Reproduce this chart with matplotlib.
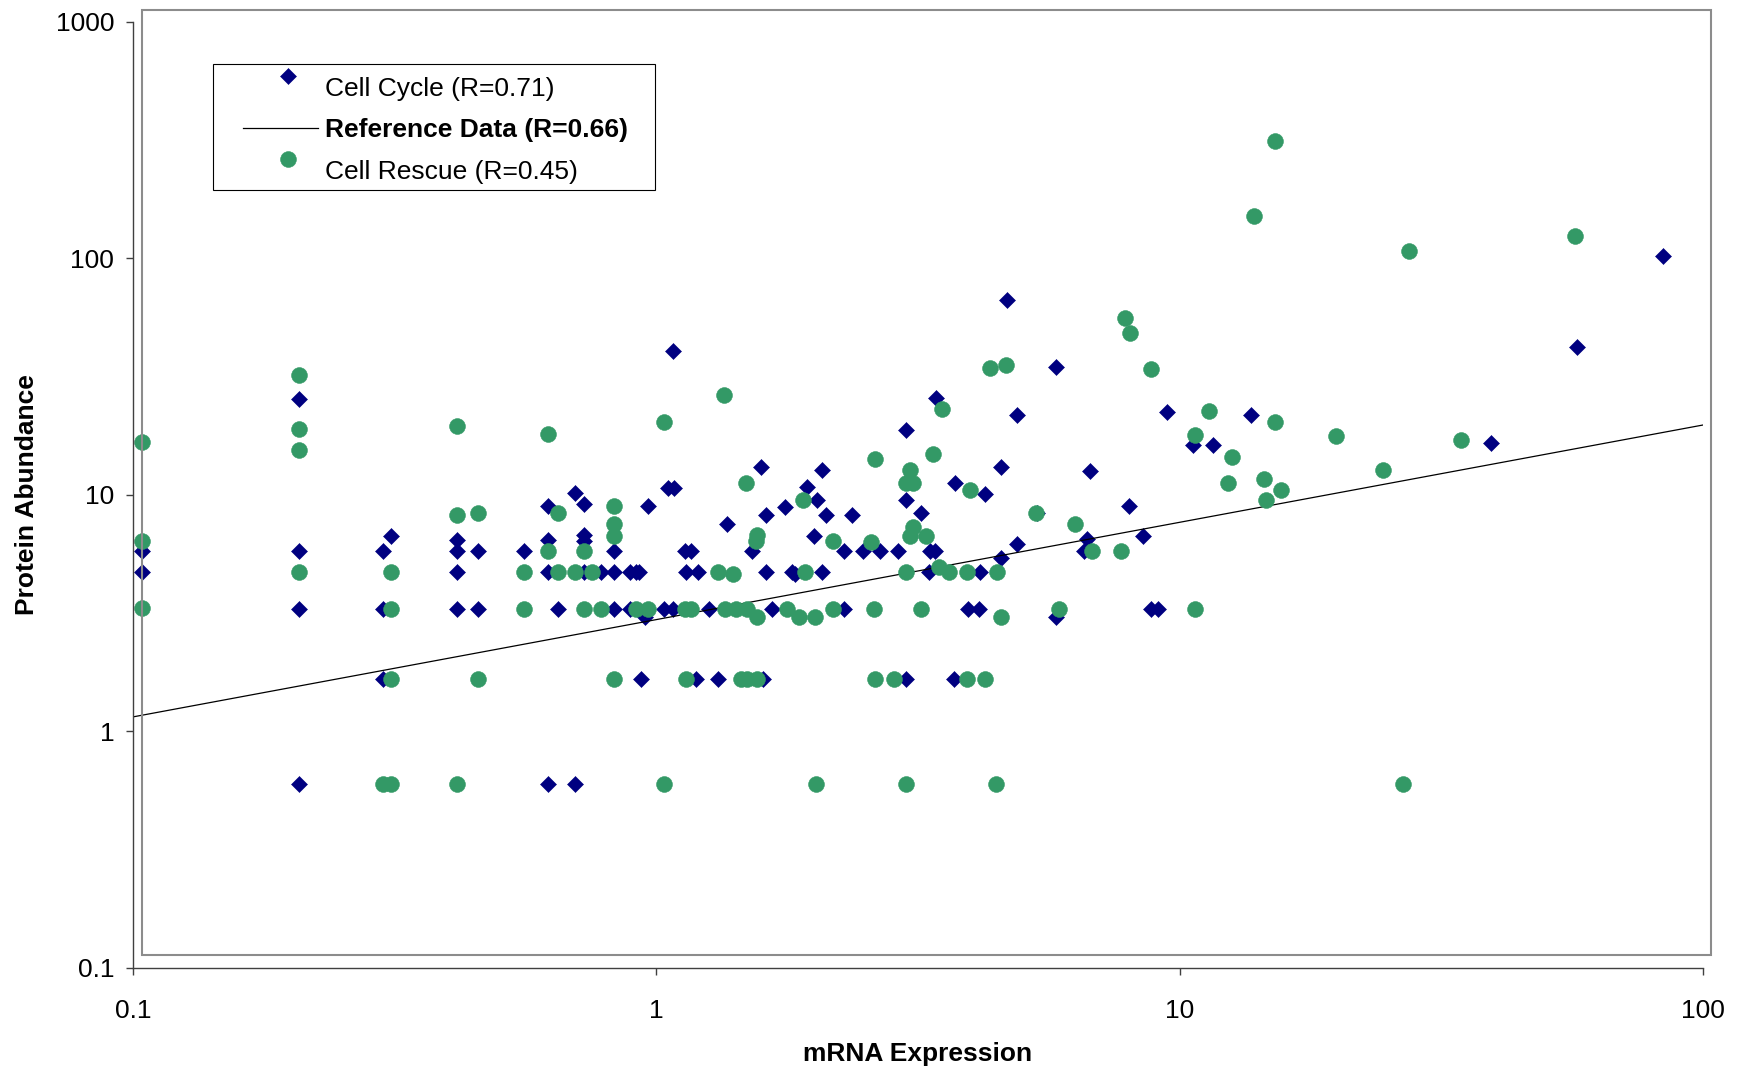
import numpy as np
import matplotlib
matplotlib.use("Agg")
import matplotlib.pyplot as plt
from matplotlib.patches import Rectangle
from matplotlib.legend_handler import HandlerLine2D
from matplotlib.ticker import FixedLocator, FixedFormatter, NullLocator

plt.rcParams['font.family'] = ['Liberation Sans', 'DejaVu Sans']

# ---------------- data ----------------
cycle_x = [0.104, 0.104, 0.207, 0.207, 0.207, 0.207, 0.30, 0.30, 0.30, 0.311,
           0.415, 0.415, 0.415, 0.415, 0.456, 0.456, 0.558, 0.621, 0.621, 0.621,
           0.621, 0.648, 0.70, 0.70, 0.727, 0.727, 0.727, 0.727, 0.784, 0.829,
           0.829, 0.829, 0.89, 0.89, 0.913, 0.928, 0.933, 0.952, 0.963, 1.036,
           1.075, 1.053, 1.08, 1.075, 1.136, 1.166, 1.14, 1.2, 1.19, 1.31,
           1.26, 1.585, 1.365, 1.52, 1.62, 1.76, 1.94, 2.03, 2.07, 2.11,
           2.0, 2.36, 2.28, 2.48, 2.67, 2.9, 3.0, 3.0, 3.21, 3.33,
           3.41, 3.42, 3.72, 4.25, 4.68, 4.56, 4.88, 4.9, 4.56, 5.35,
           5.8, 6.73, 6.65, 6.58, 8.0, 8.5, 9.46, 10.6, 11.6, 13.7,
           5.8, 8.8, 9.1, 3.94, 4.14, 2.28, 1.66, 1.62, 1.82, 1.84,
           2.07, 3.32, 4.16, 3.0, 3.7, 1.6, 39.4, 57.6, 84.1]
cycle_y = [5.8, 4.7, 25.4, 5.8, 3.3, 0.6, 5.8, 3.3, 1.67, 6.7,
           6.44, 5.8, 4.7, 3.3, 5.8, 3.3, 5.8, 8.93, 6.44, 4.7,
           0.6, 3.3, 10.2, 0.6, 9.1, 6.77, 6.4, 4.7, 4.7, 5.8,
           4.7, 3.3, 4.7, 3.3, 4.7, 4.7, 1.67, 3.03, 8.93, 3.3,
           40.4, 10.7, 10.7, 3.3, 5.8, 5.8, 4.7, 4.7, 1.67, 1.67,
           3.3, 13.1, 7.5, 5.8, 8.24, 8.9, 10.8, 9.5, 12.7, 8.24,
           6.7, 8.24, 5.8, 5.8, 5.8, 5.8, 18.7, 9.5, 8.36, 5.8,
           5.8, 25.6, 11.2, 10.1, 66.8, 13.1, 21.7, 6.17, 5.4, 8.36,
           34.8, 12.6, 6.47, 5.8, 8.93, 6.69, 22.3, 16.2, 16.3, 21.7,
           3.03, 3.3, 3.3, 3.3, 3.3, 3.3, 3.3, 4.7, 4.7, 4.6,
           4.7, 4.7, 4.7, 1.67, 1.67, 1.67, 16.6, 42.3, 102.0]

rescue_x = [0.104, 0.104, 0.104, 0.207, 0.207, 0.207, 0.207, 0.30, 0.311, 0.311,
            0.311, 0.311, 0.415, 0.415, 0.415, 0.456, 0.456, 0.558, 0.558, 0.621,
            0.621, 0.648, 0.648, 0.70, 0.727, 0.727, 0.754, 0.784, 0.829, 0.829,
            0.829, 0.829, 0.913, 0.963, 1.036, 1.036, 1.136, 1.166, 1.14, 1.346,
            1.485, 1.56, 1.55, 1.91, 2.18, 2.57, 2.62, 3.05, 3.0, 3.1,
            3.1, 3.05, 3.27, 3.38, 3.52, 3.97, 4.35, 4.66, 5.31, 6.3,
            6.8, 7.72, 7.88, 8.04, 8.81, 10.7, 11.4, 12.6, 12.4, 10.7,
            5.87, 4.55, 3.21, 2.6, 2.18, 2.01, 1.87, 1.78, 1.56, 1.49,
            1.42, 1.35, 1.31, 1.40, 1.92, 3.0, 3.47, 3.63, 3.93, 4.47,
            2.62, 2.84, 3.93, 4.25, 1.45, 1.49, 1.56, 2.02, 3.0, 4.46,
            15.2, 13.9, 27.4, 57.1, 15.2, 19.9, 34.5, 14.5, 15.6, 14.6,
            24.5, 26.7]
rescue_y = [16.7, 6.4, 3.32, 32.0, 19.0, 15.4, 4.7, 0.6, 4.7, 3.3,
            1.67, 0.6, 19.6, 8.24, 0.6, 8.36, 1.67, 4.7, 3.3, 18.0,
            5.8, 8.36, 4.7, 4.7, 5.8, 3.3, 4.7, 3.3, 8.93, 7.5,
            6.69, 1.67, 3.3, 3.3, 20.3, 0.6, 3.3, 3.3, 1.67, 26.4,
            11.2, 6.77, 6.4, 9.5, 6.4, 6.3, 14.2, 12.7, 11.2, 11.2,
            7.3, 6.7, 6.7, 14.8, 23.1, 10.5, 34.2, 35.3, 8.36, 7.5,
            5.8, 5.8, 56.1, 48.2, 34.0, 17.8, 22.5, 14.4, 11.2, 3.3,
            3.3, 3.03, 3.3, 3.3, 3.3, 3.03, 3.03, 3.3, 3.03, 3.3,
            3.3, 3.3, 4.7, 4.6, 4.7, 4.7, 4.97, 4.7, 4.7, 4.7,
            1.67, 1.67, 1.67, 1.67, 1.67, 1.67, 1.67, 0.6, 0.6, 0.6,
            312.0, 151.0, 107.0, 124.0, 20.2, 17.7, 17.1, 11.7, 10.5, 9.5,
            12.7, 0.6]

ref_x = [0.1, 100.0]
ref_y = [1.15, 19.7]

x_ticks = [0.1, 1, 10, 100]
x_tick_labels = ['0.1', '1', '10', '100']
y_ticks = [0.1, 1, 10, 100, 1000]
y_tick_labels = ['0.1', '1', '10', '100', '1000']

labels = ['Cell Cycle (R=0.71)', 'Reference Data (R=0.66)', 'Cell Rescue (R=0.45)']

# ---------------- figure ----------------
W, H = 1741, 1070
fig = plt.figure(figsize=(W / 100, H / 100), dpi=100)
fig.patch.set_facecolor('white')

ax_l, ax_r, ax_t, ax_b = 133.3, 1702.7, 21.7, 967.7
ax = fig.add_axes([ax_l / W, 1 - ax_b / H, (ax_r - ax_l) / W, (ax_b - ax_t) / H])
ax.set_facecolor('none')

navy = '#000080'
green = '#339966'

l1, = ax.plot(cycle_x, cycle_y, ls='none', marker='D', ms=7.8, mfc=navy,
              mec=navy, mew=0.4, zorder=3)
l2, = ax.plot(ref_x, ref_y, color='black', lw=0.9, zorder=4)
l3, = ax.plot(rescue_x, rescue_y, ls='none', marker='o', ms=11.4, mfc=green,
              mec=green, mew=0.4, zorder=5)

ax.set_xscale('log')
ax.set_yscale('log')
ax.set_xlim(0.1, 100)
ax.set_ylim(0.1, 1000)

ax.xaxis.set_major_locator(FixedLocator(x_ticks))
ax.xaxis.set_major_formatter(FixedFormatter(x_tick_labels))
ax.yaxis.set_major_locator(FixedLocator(y_ticks))
ax.yaxis.set_major_formatter(FixedFormatter(y_tick_labels))
ax.xaxis.set_minor_locator(NullLocator())
ax.yaxis.set_minor_locator(NullLocator())

for s in ['top', 'right']:
    ax.spines[s].set_visible(False)
for s in ['left', 'bottom']:
    ax.spines[s].set_color('#404040')
    ax.spines[s].set_linewidth(1.0)
    ax.spines[s].set_zorder(6)

ax.tick_params(axis='both', which='major', direction='out', length=5.2,
               width=1.0, color='#404040', labelsize=19, labelcolor='black')
ax.tick_params(axis='x', pad=17.0)
ax.tick_params(axis='y', pad=8.5)

ax.set_xlabel('mRNA Expression', fontsize=19, fontweight='bold', va='center')
ax.xaxis.set_label_coords(0.5, (ax_b - 1053.5) / (ax_b - ax_t))
ax.set_ylabel('Protein Abundance', fontsize=19, fontweight='bold', va='center')
ax.yaxis.set_label_coords((27 - ax_l) / (ax_r - ax_l), 0.5)

# plot-area border (offset grey box)
bx0, bx1, by0, by1 = 141.7, 1710.7, 9.8, 955.0
fig.patches.append(Rectangle((bx0 / W, 1 - by1 / H), (bx1 - bx0) / W, (by1 - by0) / H,
                             transform=fig.transFigure, fill=False,
                             edgecolor='#8c8c8c', lw=1.5, zorder=0))

# legend
class ShiftedHandler(HandlerLine2D):
    def __init__(self, dx=0.0, dy=0.0, **kw):
        super().__init__(**kw)
        self.dx = dx
        self.dy = dy

    def create_artists(self, legend, orig_handle, xdescent, ydescent, width,
                       height, fontsize, trans):
        arts = super().create_artists(legend, orig_handle, xdescent, ydescent,
                                      width, height, fontsize, trans)
        for a in arts:
            a.set_xdata(np.asarray(a.get_xdata()) + self.dx)
            a.set_ydata(np.asarray(a.get_ydata()) + self.dy)
        return arts

leg = fig.legend([l1, l2, l3], labels, loc='upper left',
                 bbox_to_anchor=(243 / W, 1 - 77 / H), bbox_transform=fig.transFigure,
                 frameon=False, fontsize=19, borderpad=0, borderaxespad=0,
                 handlelength=2.84, handletextpad=0.27, labelspacing=0.66,
                 numpoints=1,
                 handler_map={l1: ShiftedHandler(dx=5.5, dy=7.8),
                              l3: ShiftedHandler(dx=5.5, dy=7.8)})
leg.get_texts()[1].set_fontweight('bold')

lx0, lx1, ly0, ly1 = 213, 655, 64, 190
fig.patches.append(Rectangle((lx0 / W, 1 - ly1 / H), (lx1 - lx0) / W, (ly1 - ly0) / H,
                             transform=fig.transFigure, fill=False,
                             edgecolor='black', lw=0.8, zorder=10))

fig.savefig('out.png', dpi=100, facecolor='white')
